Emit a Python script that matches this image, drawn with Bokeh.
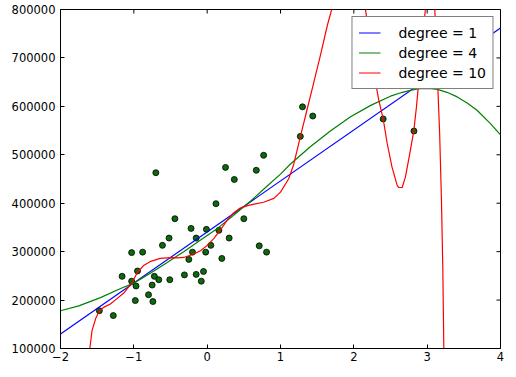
import math
from bokeh.plotting import figure
from bokeh.models import Range1d, FixedTicker, Legend, LegendItem
from bokeh.embed import file_html
from bokeh.resources import INLINE

NAN = float("nan")

# ---- data ----
x_pts = [-0.70, 0.25, 0.67, 0.77, 0.37, 0.12, -0.44, 0.50, -0.22, -0.01, 0.16,
         -0.52, -0.15, 0.30, -0.61, 0.05, 0.71, -1.03, -0.88, -0.20, -0.02, 0.81,
         -0.25, 0.20, -0.95, -0.05, -1.16, -0.72, -0.66, -0.51, -0.31, -0.15,
         -0.08, -1.03, -0.97, -0.75, -0.80, -0.98, -0.74, -1.47, -1.28, 1.30,
         1.44, 1.27, 2.40, 2.82]
y_pts = [463000, 474000, 468000, 499000, 449000, 399000, 368000, 368000, 348000,
         346000, 344000, 328000, 328000, 328000, 313000, 313000, 312000, 298000,
         299000, 299000, 299000, 299000, 284000, 286000, 260000, 259000, 249000,
         249000, 242000, 242000, 252000, 253000, 239000, 239000, 229000, 231000,
         211000, 199000, 197000, 178000, 168000, 599000, 580000, 538000, 574000,
         549000]

deg1_x = [-2.0, 4.0]
deg1_y = [130000, 762000]

deg4_x = [-2.0, -1.75, -1.455, -1.18, -1.0, -0.77, -0.55, -0.32, -0.09, 0.14, 0.36,
          0.59, 0.80, 1.0, 1.136, 1.41, 1.68, 1.95, 2.23, 2.5, 2.65, 2.77, 2.87,
          2.95, 3.05, 3.14, 3.27, 3.41, 3.55, 3.68, 3.86, 4.0]
deg4_y = [178000, 188000, 205000, 224000, 235000, 256000, 277000, 300000, 324000,
          348000, 375000, 404000, 433000, 460000, 481000, 517000, 549000, 578000,
          602000, 621000, 628500, 633000, 635800, 637000, 636800, 635000, 629000,
          619500, 606500, 592000, 565000, 541000]

deg10_x = [-1.62, -1.60, -1.57, -1.52, -1.47, -1.40, -1.32, -1.23, -1.14, -1.02,
           -0.95, -0.86, -0.77, -0.64, -0.50, -0.40, -0.32, -0.20, -0.09, 0.00,
           0.09, 0.18, 0.27, 0.36, 0.45, 0.55, 0.64, 0.77, 0.91, 1.00, 1.11, 1.18,
           1.27, 1.36, 1.45, 1.55, 1.64, 1.72,
           NAN,
           2.14, 2.16, 2.295, 2.34, 2.40, 2.455, 2.52, 2.59, 2.613, 2.659, 2.704,
           2.763, 2.817, 2.854, 2.885, 2.98,
           NAN,
           3.10, 3.14, 3.17, 3.195, 3.213, 3.227, 3.24]
deg10_y = [80000, 100000, 137000, 162000, 178000, 186000, 192000, 203000, 214000,
           237000, 258000, 272000, 280000, 286000, 287500, 287000, 288000, 294000,
           302000, 313000, 327000, 345000, 364000, 380000, 390000, 395000, 398000,
           402000, 410000, 423000, 450000, 480000, 537000, 592000, 647000, 709000,
           768000, 812000,
           NAN,
           819000, 798600, 650500, 612700, 574100, 523300, 475000, 437200, 432400,
           432400, 454300, 502600, 548700, 598900, 650500, 808000,
           NAN,
           818000, 660000, 545000, 406000, 268000, 103000, 40000]

x_ticks = [-2, -1, 0, 1, 2, 3, 4]
x_tick_labels = ["\u22122", "\u22121", "0", "1", "2", "3", "4"]
y_ticks = [100000, 200000, 300000, 400000, 500000, 600000, 700000, 800000]
y_tick_labels = ["100000", "200000", "300000", "400000", "500000", "600000",
                 "700000", "800000"]
series_labels = ["degree = 1", "degree = 4", "degree = 10"]

X_MIN, X_MAX = -2, 4
Y_MIN, Y_MAX = 100000, 800000

FONT = "DejaVu Sans"

p = figure(width=516, height=377, x_range=Range1d(X_MIN, X_MAX),
           y_range=Range1d(Y_MIN, Y_MAX), output_backend="svg",
           toolbar_location=None, min_border_left=60, min_border_right=16,
           min_border_top=9, min_border_bottom=29)
p.grid.visible = False
p.outline_line_color = "black"
p.outline_line_width = 1
p.background_fill_color = "white"
p.border_fill_color = "white"

p.xaxis.ticker = FixedTicker(ticks=x_ticks)
p.xaxis.major_label_overrides = dict(zip(x_ticks, x_tick_labels))
p.yaxis.ticker = FixedTicker(ticks=y_ticks)
p.yaxis.major_label_overrides = dict(zip(y_ticks, y_tick_labels))

for ax in [p.xaxis[0], p.yaxis[0]]:
    ax.major_tick_in = 4
    ax.major_tick_out = 0
    ax.minor_tick_line_color = None
    ax.axis_line_color = "black"
    ax.major_tick_line_color = "black"
    ax.major_label_text_font = FONT
    ax.major_label_text_font_size = "11.5px"
    ax.major_label_text_color = "black"
p.xaxis.major_label_standoff = 3
p.yaxis.major_label_standoff = 5

# inward tick marks on the top and right frame edges (clipped to the frame)
p.scatter(x_ticks, [Y_MAX] * len(x_ticks), marker="dash", angle=math.pi / 2,
          size=8, line_color="black", line_width=1)
p.scatter([X_MAX] * len(y_ticks), y_ticks, marker="dash", size=8,
          line_color="black", line_width=1)

p.scatter(x_pts, y_pts, size=6, fill_color="#0b6b0b", line_color="black",
          line_width=0.8)

r1 = p.line(deg1_x, deg1_y, line_color="#0000ff", line_width=1.2)
r2 = p.line(deg4_x, deg4_y, line_color="#008000", line_width=1.2)
r3 = p.line(deg10_x, deg10_y, line_color="#ff0000", line_width=1.2)

legend = Legend(items=[LegendItem(label=series_labels[0], renderers=[r1]),
                       LegendItem(label=series_labels[1], renderers=[r2]),
                       LegendItem(label=series_labels[2], renderers=[r3])],
                location="top_right")
legend.border_line_color = "black"
legend.border_line_width = 1
legend.background_fill_color = "white"
legend.background_fill_alpha = 1.0
legend.label_text_font = FONT
legend.label_text_font_size = "14px"
legend.label_text_color = "black"
legend.glyph_width = 22
legend.glyph_height = 19
legend.label_height = 19
legend.spacing = 1
legend.padding = 6
legend.label_standoff = 18
legend.margin = 7
p.add_layout(legend)

open("out.html", "w").write(file_html(p, INLINE))
